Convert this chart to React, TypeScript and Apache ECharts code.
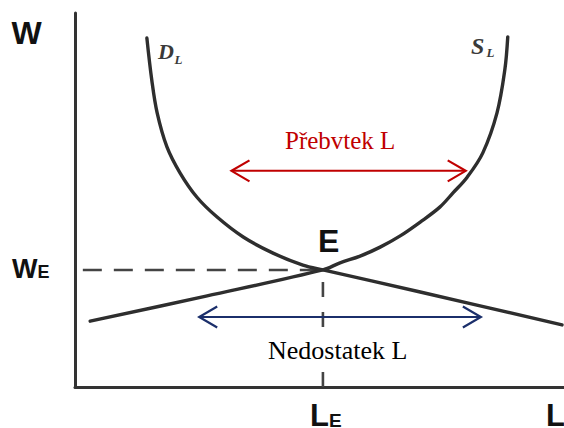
import React, { useEffect, useRef } from "react";
import * as echarts from "echarts";

// Labour market: demand D_L and supply S_L (L = quantity of labour, W = wage), units 0..100
const demandL = [14.7, 15.7, 16.8, 18.8, 21.5, 24.9, 29.0, 34.4, 40.5, 46.6, 50.7, 70.6, 99.6];
const demandW = [93.3, 82.1, 73.3, 64.2, 57.2, 50.8, 45.5, 40.1, 35.8, 32.6, 31.3, 25.4, 16.6];
const supplyL = [3.1, 26.8, 50.7, 54.2, 58.3, 62.4, 66.5, 70.6, 74.6, 77.3, 80.2, 83.4, 86.3, 87.9, 88.5];
const supplyW = [17.6, 24.3, 31.3, 33.2, 35.0, 37.4, 40.4, 44.1, 48.1, 51.9, 56.1, 62.6, 73.3, 84.8, 93.6];

// Equilibrium
const equilibriumL = 50.7;
const equilibriumW = 31.3;
const wageGuideStartL = 1.6;

// Double arrows: surplus (red) and shortage (blue)
const arrowNames = ["Přebvtek L", "Nedostatek L"];
const arrowFromL = [32.0, 25.4];
const arrowToL = [79.9, 83.0];
const arrowAtW = [57.8, 18.7];
const arrowColors = ["#c00000", "#1b2f6b"];

const sans = '"Liberation Sans", Arial, sans-serif';
const serif = '"Liberation Serif", "Times New Roman", serif';

function zip(a: number[], b: number[]) {
  return a.map((v, i) => [v, b[i]]);
}

export default function App() {
  const ref = useRef<HTMLDivElement>(null);

  useEffect(() => {
    document.body.style.margin = "0";
    if (!ref.current) return;
    const chart = echarts.init(ref.current, undefined, { renderer: "svg" });

    const axisCommon = {
      type: "value" as const,
      min: 0,
      max: 100,
      axisLine: { show: true, onZero: false, lineStyle: { color: "#333", width: 3 } },
      axisTick: { show: false },
      axisLabel: { show: false },
      splitLine: { show: false },
    };

    const curveStyle = { color: "#2e2e2e", width: 3.4, cap: "round" as const, join: "round" as const };

    const boldText = (text: string, x: number, y: number, size: number) => ({
      type: "text",
      x,
      y,
      z: 100,
      style: {
        text,
        fill: "#111",
        fontFamily: sans,
        fontWeight: "bold",
        fontSize: size,
        lineHeight: Math.round(size * 0.72),
        align: "left",
        verticalAlign: "middle",
      },
    });

    const italicText = (text: string, x: number, y: number, size: number) => ({
      type: "text",
      x,
      y,
      z: 100,
      style: {
        text,
        fill: "#3a3a3a",
        fontFamily: serif,
        fontWeight: "bold",
        fontStyle: "italic",
        fontSize: size,
        align: "left",
        verticalAlign: "middle",
      },
    });

    chart.setOption({
      animation: false,
      backgroundColor: "#fff",
      grid: { left: 75, right: 0, top: 13, bottom: 41 },
      xAxis: axisCommon,
      yAxis: axisCommon,
      series: [
        {
          type: "line",
          data: [
            [wageGuideStartL, equilibriumW],
            [equilibriumL, equilibriumW],
          ],
          symbol: "none",
          lineStyle: { color: "#444", width: 2.6, type: [19, 12] },
          z: 1,
        },
        {
          type: "line",
          data: [
            [equilibriumL, 0],
            [equilibriumL, equilibriumW],
          ],
          symbol: "none",
          lineStyle: { color: "#444", width: 2.6, type: [15, 15] },
          z: 1,
        },
        {
          name: "D_L",
          type: "line",
          data: zip(demandL, demandW),
          symbol: "none",
          smooth: 0.35,
          lineStyle: curveStyle,
          z: 3,
        },
        {
          name: "S_L",
          type: "line",
          data: zip(supplyL, supplyW),
          symbol: "none",
          smooth: 0.35,
          lineStyle: curveStyle,
          z: 3,
        },
        {
          type: "custom",
          data: arrowNames.map((_, i) => [arrowFromL[i], arrowToL[i], arrowAtW[i]]),
          encode: { x: [0, 1], y: 2 },
          clip: false,
          z: 4,
          renderItem: (params: any, api: any) => {
            const c = arrowColors[params.dataIndex];
            const y = api.value(2);
            const p1 = api.coord([api.value(0), y]);
            const p2 = api.coord([api.value(1), y]);
            const hl = 18;
            const hw = 10.5;
            const st = { stroke: c, lineWidth: 2.2, fill: null, lineJoin: "miter" };
            return {
              type: "group",
              children: [
                {
                  type: "line",
                  shape: { x1: p1[0] + 1, y1: p1[1], x2: p2[0] - 1, y2: p2[1] },
                  style: { stroke: c, lineWidth: 2 },
                },
                {
                  type: "polyline",
                  shape: { points: [[p1[0] + hl, p1[1] - hw], [p1[0], p1[1]], [p1[0] + hl, p1[1] + hw]] },
                  style: st,
                },
                {
                  type: "polyline",
                  shape: { points: [[p2[0] - hl, p2[1] - hw], [p2[0], p2[1]], [p2[0] - hl, p2[1] + hw]] },
                  style: st,
                },
              ],
            };
          },
        },
      ],
      graphic: [
        boldText("W", 11.5, 33, 32),
        boldText("E", 318, 241, 32),
        boldText("W", 12, 268.6, 27),
        boldText("E", 37.6, 271.7, 18),
        boldText("L", 310, 415.5, 31),
        boldText("E", 329, 420, 19),
        boldText("L", 546, 415.5, 31),
        italicText("D", 158, 51, 22),
        italicText("L", 174.5, 59, 13),
        italicText("S", 471, 45.5, 24),
        italicText("L", 486.5, 52, 13),
        {
          type: "text",
          x: 285,
          y: 140,
          z: 100,
          style: {
            text: arrowNames[0],
            fill: "#c00000",
            fontFamily: serif,
            fontSize: 25,
            align: "left",
            verticalAlign: "middle",
          },
        },
        {
          type: "text",
          x: 266,
          y: 350.2,
          z: 100,
          style: {
            text: arrowNames[1],
            fill: "#000",
            fontFamily: serif,
            fontSize: 26,
            align: "left",
            verticalAlign: "middle",
            backgroundColor: "#fff",
            padding: [3, 2],
          },
        },
      ],
    });

    return () => chart.dispose();
  }, []);

  return (
    <div
      ref={ref}
      style={{ position: "absolute", left: 0, top: 0, width: 564, height: 428 }}
    />
  );
}
